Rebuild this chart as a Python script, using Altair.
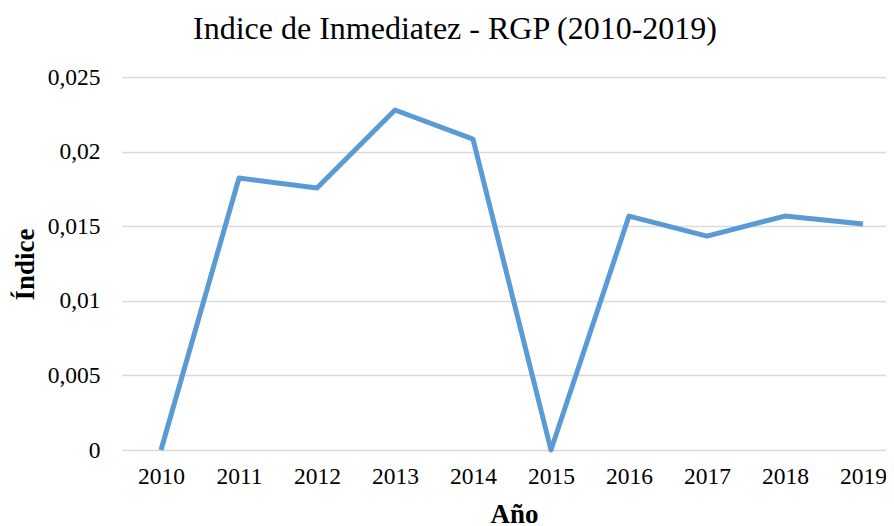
import altair as alt
import pandas as pd

years = [2010, 2011, 2012, 2013, 2014, 2015, 2016, 2017, 2018, 2019]
indice = [0.0, 0.01823, 0.01756, 0.02279, 0.02084, 0.0, 0.01568, 0.01434, 0.01568, 0.01515]
y_ticks = [0, 0.005, 0.01, 0.015, 0.02, 0.025]

df = pd.DataFrame({"Año": years, "Índice": indice})

FONT = "Liberation Serif"

chart = alt.Chart(df).mark_line(color="#5B9BD5", strokeWidth=5, strokeJoin="round", strokeCap="butt").encode(
    x=alt.X("Año:Q",
            scale=alt.Scale(domain=[2009.5, 2019.295], nice=False, zero=False),
            axis=alt.Axis(values=years, format="d", title="Año", grid=False, ticks=False,
                          domain=False, labelFont=FONT, labelFontSize=23.5, labelColor="#000",
                          labelPadding=14, titleFont=FONT, titleFontSize=27, titleFontWeight="bold",
                          titleColor="#000", titleX=392, titleY=72, titleBaseline="alphabetic",
                          labelFlush=False)),
    y=alt.Y("Índice:Q",
            scale=alt.Scale(domain=[0, 0.025], nice=False),
            axis=alt.Axis(values=y_ticks, labelExpr="replace(format(datum.value, '~g'), '.', ',')",
                          title="Índice", ticks=False, domain=False, grid=True,
                          gridColor="#D9D9D9", gridWidth=1.5,
                          labelFont=FONT, labelFontSize=23.5, labelColor="#000", labelPadding=22,
                          titleFont=FONT, titleFontSize=27, titleFontWeight="bold", titleColor="#000",
                          titleX=-83, titleY=187)),
).properties(
    width=764,
    height=373,
    title=alt.TitleParams("Indice de Inmediatez - RGP (2010-2019)", font=FONT, fontSize=32,
                          fontWeight="normal", color="#000", anchor="middle", dx=-49, offset=19),
    autosize=alt.AutoSizeParams(type="none"),
    padding={"left": 114, "top": 69, "right": 0, "bottom": 74},
).configure_view(stroke=None)

chart.save("out.html", embed_options={"renderer": "svg", "actions": False})
